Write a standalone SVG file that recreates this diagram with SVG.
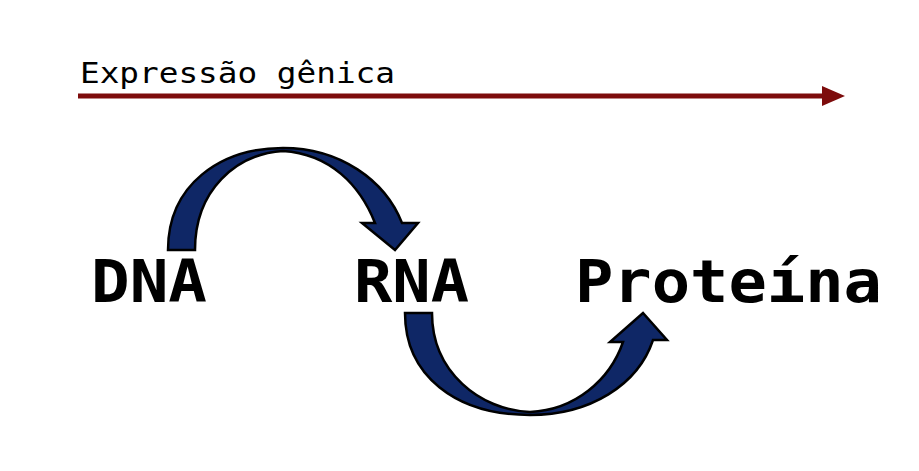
<svg xmlns="http://www.w3.org/2000/svg" width="919" height="471" viewBox="0 0 919 471">
<style>
.lbl{font-family:"DejaVu Sans Mono","Liberation Mono",monospace;fill:#000}
.big{font-size:58px;font-weight:bold}
.arc{fill:#0f2766;stroke:#000;stroke-width:2.5;stroke-linejoin:miter}
</style>
<rect width="919" height="471" fill="#fff"/>
<g id="expressao">
<text class="lbl" x="80" y="83" font-size="29" textLength="315" lengthAdjust="spacingAndGlyphs">Expressão gênica</text>
</g>
<g id="connectors">
<line x1="78" y1="96" x2="825" y2="96" stroke="#7d0c0c" stroke-width="5"/>
<polygon points="822,86 845,96 822,106" fill="#7d0c0c"/>
<path id="arc1" class="arc" d="M168,250 C168,185 220,148 283,148 C340,148 385,180 402,223 L418,223 L395,250 L362,223 L375,223 C360,185 330,154 283,151 C236,154 195,190 195,250 Z"/>
<path id="arc2" class="arc" d="M405,313 C405,375 455,415 530,415 C590,415 638,385 653,340 L667,340 L643,313 L610,342 L623,342 C610,380 575,410 530,412 C480,410 432,372 432,313 Z"/>
</g>
<g id="dna"><text class="lbl big" x="91" y="302" textLength="116" lengthAdjust="spacingAndGlyphs">DNA</text></g>
<g id="rna"><text class="lbl big" x="354" y="302" textLength="115" lengthAdjust="spacingAndGlyphs">RNA</text></g>
<g id="proteina"><text class="lbl big" x="575" y="302" textLength="307" lengthAdjust="spacingAndGlyphs">Proteína</text></g>
</svg>
